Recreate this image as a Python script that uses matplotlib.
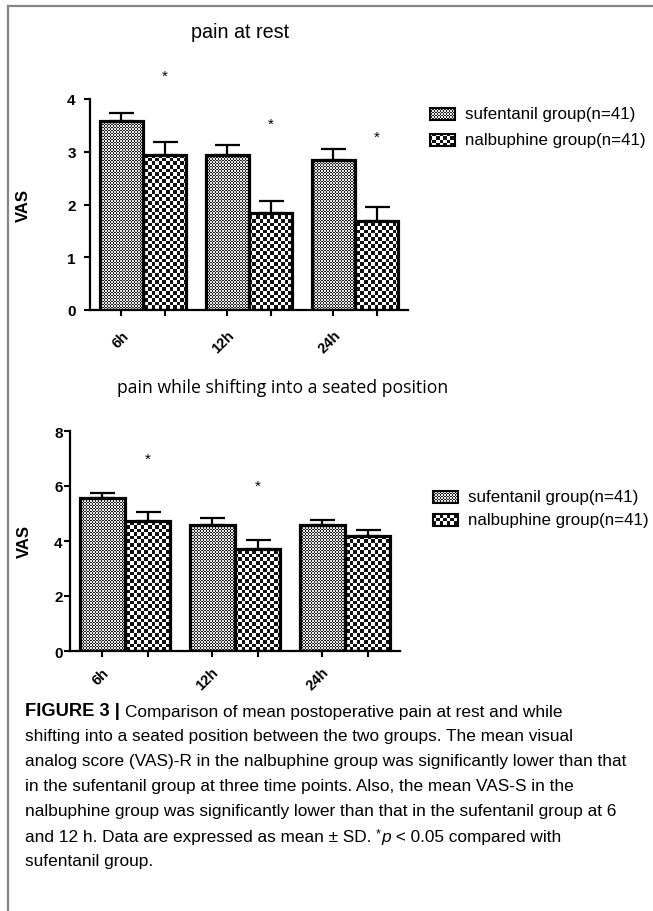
import numpy as np
import matplotlib
matplotlib.use("Agg")
import matplotlib.pyplot as plt
from matplotlib.patches import Rectangle
from matplotlib.lines import Line2D
from matplotlib.text import Annotation
from matplotlib.transforms import ScaledTranslation

plt.rcParams['font.family'] = ['Liberation Sans', 'DejaVu Sans']

W, H = 653, 912

times = ["6h", "12h", "24h"]
groups = ["sufentanil group(n=41)", "nalbuphine group(n=41)"]

# pain at rest (VAS-R)
rest_suf = [3.58, 2.94, 2.84]
rest_suf_sd = [0.15, 0.19, 0.21]
rest_nal = [2.94, 1.84, 1.68]
rest_nal_sd = [0.24, 0.23, 0.27]
rest_star = [4.44, 3.53, 3.29]

# pain while shifting into a seated position (VAS-S)
sit_suf = [5.55, 4.59, 4.58]
sit_suf_sd = [0.21, 0.26, 0.20]
sit_nal = [4.72, 3.71, 4.17]
sit_nal_sd = [0.32, 0.31, 0.23]
sit_star = [7.0, 6.0, None]

caption = [
    "shifting into a seated position between the two groups. The mean visual",
    "analog score (VAS)-R in the nalbuphine group was significantly lower than that",
    "in the sufentanil group at three time points. Also, the mean VAS-S in the",
    "nalbuphine group was significantly lower than that in the sufentanil group at 6",
]

fig = plt.figure(figsize=(W / 100, H / 100), dpi=100)


def checker(cell, c1, c2):
    yy, xx = np.mgrid[0:H, 0:W]
    m = ((np.floor(xx / cell) + np.floor(yy / cell)) % 2).astype(bool)
    a = np.array(matplotlib.colors.to_rgb(c1))
    b = np.array(matplotlib.colors.to_rgb(c2))
    return np.where(m[..., None], a, b)


fine = checker(1.5, "#262626", "#e6e6e6")
coarse = checker(3.6, "#111111", "#ffffff")


def fill(patch, tex):
    im = fig.figimage(tex, xo=0, yo=0, zorder=-1)
    im.set_clip_path(patch)


def panel(rect, suf, suf_sd, nal, nal_sd, star, ymax, step, pad, lab_off):
    ax = fig.add_axes(rect)
    ax.patch.set_facecolor("none")
    x = np.arange(len(times))
    w = 0.41
    for xs, vals, sd, tex in [(x - w / 2, suf, suf_sd, fine), (x + w / 2, nal, nal_sd, coarse)]:
        ax.errorbar(xs, vals, yerr=[np.zeros(len(sd)), sd], fmt="none", ecolor="k",
                    elinewidth=1.6, capsize=9, capthick=1.6, zorder=2)
        bars = ax.bar(xs, vals, w, facecolor="none", edgecolor="k", linewidth=2.3, zorder=3)
        for b in bars:
            fill(b, tex)
    for xi, s in zip(x + w / 2, star):
        if s is not None:
            ax.text(xi, s, "*", ha="center", va="center", fontsize=11)
    ax.set_xlim(-0.5, 2.5)
    ax.set_ylim(0, ymax)
    ax.set_yticks(np.arange(0, ymax + 0.1, step))
    ax.set_yticklabels([str(int(v)) for v in np.arange(0, ymax + 0.1, step)],
                       fontweight="bold", fontsize=11)
    ticks = np.sort(np.concatenate([x - w / 2, x + w / 2]))
    ax.set_xticks(ticks)
    ax.set_xticklabels([times[i // 2] if i % 2 == 0 else "" for i in range(6)],
                       rotation=45, ha="right", va="center", rotation_mode="anchor",
                       fontweight="bold", fontsize=10.5)
    ax.tick_params(width=1.5, length=4.3, pad=pad)
    ax.tick_params(axis="x", pad=2)
    off = ScaledTranslation(lab_off[0] / 100, lab_off[1] / 100, fig.dpi_scale_trans)
    for t in ax.get_xticklabels():
        t.set_transform(t.get_transform() + off)
    for s in ["top", "right"]:
        ax.spines[s].set_visible(False)
    for s in ["left", "bottom"]:
        ax.spines[s].set_linewidth(1.6)
    ax.set_ylabel("VAS", fontweight="bold", fontsize=12)
    return ax


ax1 = panel([90 / W, 1 - 311 / H, 318 / W, 211 / H], rest_suf, rest_suf_sd, rest_nal,
            rest_nal_sd, rest_star, 4, 1, 6, (5, -14))
ax1.yaxis.set_label_coords(-0.186, 0.5)
ax2 = panel([70 / W, 1 - 652 / H, 330 / W, 220 / H], sit_suf, sit_suf_sd, sit_nal,
            sit_nal_sd, sit_star, 8, 2, 1, (4, -10))
ax2.yaxis.set_label_coords(-0.115, 0.5)

fig.text(240 / W, 1 - 32 / H, "pain at rest", ha="center", va="center", fontsize=14.2)
fig.text(283 / W, 1 - 388 / H, "pain while shifting into a seated position", ha="center",
         va="center", fontsize=12.7, family="Open Sans")


def legend(x0, ys):
    for y, tex, lab in zip(ys, [fine, coarse], groups):
        r = Rectangle((x0 / W, 1 - (y + 6) / H), 25 / W, 12 / H, transform=fig.transFigure,
                      facecolor="none", edgecolor="k", linewidth=1.5)
        fig.add_artist(r)
        fill(r, tex)
        fig.text((x0 + 35) / W, 1 - y / H, lab, va="center", fontsize=12.2)


legend(430, [115, 141])
legend(433, [498, 521])

# caption
fs = 12.4
cx = 25 / W
ys = [712, 737, 762, 787, 812, 838, 862]
t0 = fig.text(cx, 1 - ys[0] / H, "FIGURE 3 | ", fontweight="bold", fontsize=13.2, va="center")
a = Annotation("Comparison of mean postoperative pain at rest and while", xy=(1, 0),
               xycoords=t0, va="bottom", fontsize=fs)
fig.add_artist(a)
for line, y in zip(caption, ys[1:5]):
    fig.text(cx, 1 - y / H, line, fontsize=fs, va="center")
t1 = fig.text(cx, 1 - ys[5] / H, "and 12 h. Data are expressed as mean \u00b1 SD. ",
              fontsize=fs, va="center")
t2 = Annotation("*", xy=(1, 0.35), xycoords=t1, va="bottom", fontsize=9)
fig.add_artist(t2)
t3 = Annotation("p", xy=(1, 0), xycoords=(t2, t1), va="bottom", fontsize=fs, style="italic")
fig.add_artist(t3)
t4 = Annotation(" < 0.05 compared with", xy=(1, 0), xycoords=(t3, t1), va="bottom", fontsize=fs)
fig.add_artist(t4)
fig.text(cx, 1 - ys[6] / H, "sufentanil group.", fontsize=fs, va="center")

# journal frame
fig.add_artist(Line2D([8 / W, 1], [1 - 6.5 / H] * 2, transform=fig.transFigure,
                      color="#858585", linewidth=1.6))
fig.add_artist(Line2D([8 / W] * 2, [0, 1 - 6.5 / H], transform=fig.transFigure,
                      color="#858585", linewidth=1.6))

fig.savefig("out.png", dpi=100)
